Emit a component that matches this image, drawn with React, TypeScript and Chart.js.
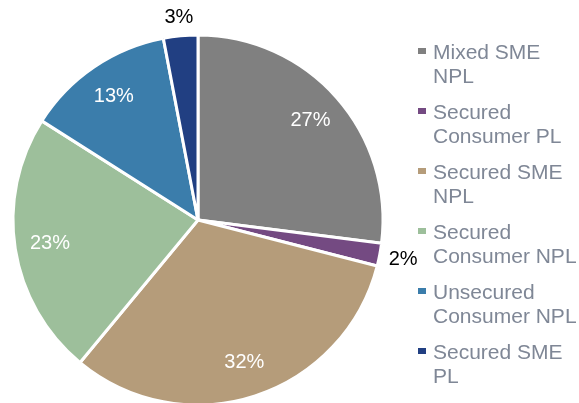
import React, { useEffect, useRef } from "react";
import { Chart, registerables } from "chart.js";

Chart.register(...registerables);

const categories = [
  "Mixed SME NPL",
  "Secured Consumer PL",
  "Secured SME NPL",
  "Secured Consumer NPL",
  "Unsecured Consumer NPL",
  "Secured SME PL",
];
const shares = [27, 2, 32, 23, 13, 3];
const percentLabels = ["27%", "2%", "32%", "23%", "13%", "3%"];
const sliceColors = ["#808080", "#744A82", "#B59C7A", "#9DBF9B", "#3B7DAB", "#213F82"];

const FONT = "'Liberation Sans', Arial, sans-serif";

const labelPlugin = {
  id: "sliceLabels",
  afterDatasetsDraw(chart: any) {
    const ctx = chart.ctx;
    const meta = chart.getDatasetMeta(0);
    ctx.save();
    ctx.font = `20px ${FONT}`;
    ctx.textAlign = "center";
    ctx.textBaseline = "middle";
    meta.data.forEach((arc: any, i: number) => {
      const p = arc.getProps(["x", "y", "startAngle", "endAngle", "outerRadius"], true);
      const mid = (p.startAngle + p.endAngle) / 2;
      const small = shares[i] < 5;
      const c = Math.cos(mid);
      const s = Math.sin(mid);
      let r: number;
      if (small) {
        const hw = ctx.measureText(percentLabels[i]).width / 2;
        const hh = 9;
        r = p.outerRadius + 8 + Math.abs(c) * hw + Math.abs(s) * hh;
      } else {
        r = p.outerRadius * 0.81;
      }
      ctx.fillStyle = small ? "#000000" : "#FFFFFF";
      ctx.fillText(percentLabels[i], p.x + c * r, p.y + s * r);
    });
    ctx.restore();
  },
};

function wrap(ctx: CanvasRenderingContext2D, text: string, maxW: number): string[] {
  const words = text.split(" ");
  const lines: string[] = [];
  let cur = "";
  for (const w of words) {
    const t = cur ? cur + " " + w : w;
    if (cur && ctx.measureText(t).width > maxW) {
      lines.push(cur);
      cur = w;
    } else cur = t;
  }
  if (cur) lines.push(cur);
  return lines;
}

const legendPlugin = {
  id: "sideLegend",
  afterDraw(chart: any) {
    const ctx = chart.ctx;
    ctx.save();
    ctx.font = `21px ${FONT}`;
    ctx.textBaseline = "alphabetic";
    ctx.textAlign = "left";
    const maxW = ctx.measureText("Consumer NPL").width + 1;
    const x0 = 418;
    const tx = 433;
    let y = 59;
    categories.forEach((c, i) => {
      ctx.fillStyle = sliceColors[i];
      ctx.fillRect(x0, y - 11, 8, 6);
      ctx.fillStyle = "#7F8796";
      const lines = wrap(ctx, c, maxW);
      lines.forEach((ln, j) => ctx.fillText(ln, tx, y + j * 24));
      y += 60;
    });
    ctx.restore();
  },
};

export default function App() {
  const ref = useRef<HTMLCanvasElement>(null);
  useEffect(() => {
    document.body.style.margin = "0";
    const chart = new Chart(ref.current!, {
      type: "pie",
      data: {
        labels: categories,
        datasets: [
          {
            data: shares,
            backgroundColor: sliceColors,
            borderColor: "#FFFFFF",
            borderWidth: 3,
          },
        ],
      },
      options: {
        animation: false,
        responsive: false,
        maintainAspectRatio: false,
        radius: 185,
        layout: { padding: { left: 0, right: 183, top: 37, bottom: 0 } },
        plugins: {
          legend: { display: false },
          tooltip: { enabled: false },
        },
      } as any,
      plugins: [labelPlugin, legendPlugin],
    });
    return () => chart.destroy();
  }, []);
  return (
    <div style={{ width: 579, height: 403, position: "relative" }}>
      <canvas ref={ref} width={579} height={403} style={{ display: "block" }} />
    </div>
  );
}
